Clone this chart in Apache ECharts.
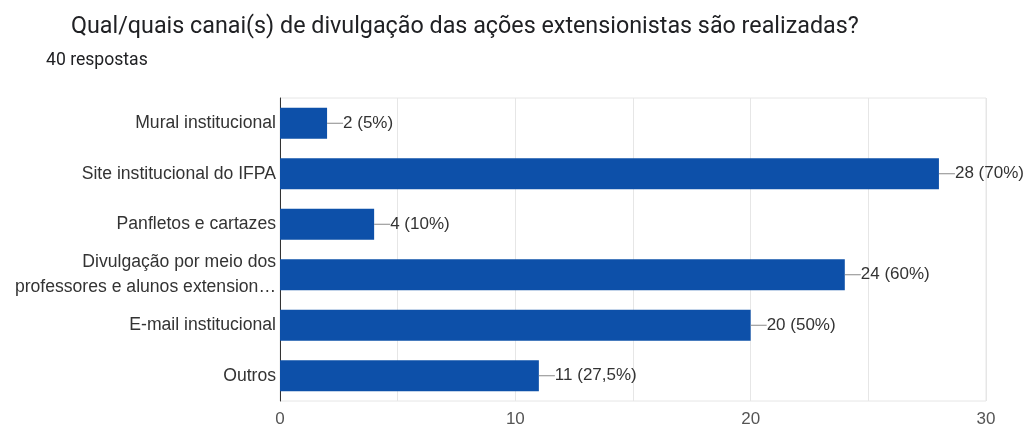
<!DOCTYPE html>
<html>
<head>
<meta charset="utf-8">
<script src="https://cdn.jsdelivr.net/npm/echarts@6/dist/echarts.min.js"></script>
<style>
html,body{margin:0;padding:0;background:#fff;}
#chart{width:1032px;height:428px;}
</style>
</head>
<body>
<div id="chart"></div>
<script>
const titleText = 'Qual/quais canai(s) de divulgação das ações extensionistas são realizadas?';
const subtitleText = '40 respostas';
const totalResponses = 40;
const categories = [
  'Mural institucional',
  'Site institucional do IFPA',
  'Panfletos e cartazes',
  'Divulgação por meio dos\nprofessores e alunos extension…',
  'E-mail institucional',
  'Outros'
];
const values = [2, 28, 4, 24, 20, 11];
const xTickLabels = ['0', '10', '20', '30'];

const chart = echarts.init(document.getElementById('chart'));
chart.setOption({
  animation: false,
  backgroundColor: '#ffffff',
  title: [
    { text: titleText, left: 66, top: 11,
      textStyle: { fontFamily: 'Roboto', fontSize: 23.3, fontWeight: 'normal', color: '#202124' } },
    { text: subtitleText, left: 41, top: 47,
      textStyle: { fontFamily: 'Roboto', fontSize: 17.6, fontWeight: 'normal', color: '#202124' } }
  ],
  grid: { left: 280, right: 46, top: 98, bottom: 25, show: true, borderColor: '#e6e6e6', borderWidth: 1 },
  xAxis: {
    type: 'value', min: 0, max: 30, interval: 5,
    axisLine: { show: false }, axisTick: { show: false },
    splitLine: { show: true, lineStyle: { color: '#e6e6e6', width: 1 } },
    axisLabel: {
      margin: 10, fontFamily: 'Liberation Sans', fontSize: 17, color: '#555',
      formatter: v => (v % 10 === 0 ? xTickLabels[v / 10] : '')
    }
  },
  yAxis: {
    type: 'category', data: categories, inverse: true,
    axisLine: { show: true, lineStyle: { color: '#333', width: 1 } },
    axisTick: { show: false },
    axisLabel: { margin: 4, fontFamily: 'Liberation Sans', fontSize: 17.6, color: '#333', lineHeight: 25 }
  },
  series: [{
    type: 'bar', data: values, barCategoryGap: '39%',
    itemStyle: { color: '#0d50a9' },
    label: {
      show: true, position: 'right', distance: 0,
      fontFamily: 'Liberation Sans', fontSize: 17, color: '#333',
      formatter: p => {
        const pct = (p.value / totalResponses * 100);
        const s = (Math.round(pct * 10) / 10).toString().replace('.', ',');
        return '{ln|}{t|' + p.value + ' (' + s + '%)}';
      },
      rich: {
        ln: { width: 16, height: 1, backgroundColor: '#888' },
        t: { fontFamily: 'Liberation Sans', fontSize: 17, color: '#333' }
      }
    }
  }]
});
</script>
</body>
</html>
